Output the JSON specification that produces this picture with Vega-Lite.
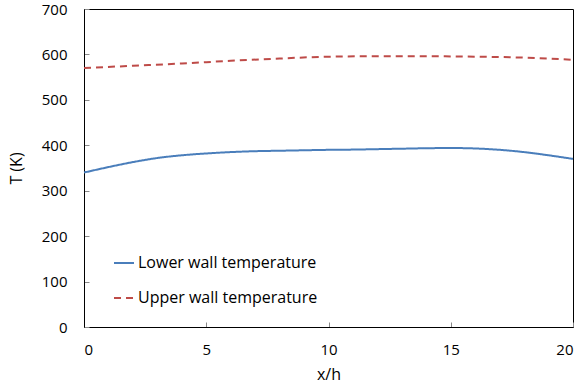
{
  "$schema": "https://vega.github.io/schema/vega-lite/v6.json",
  "width": 489,
  "height": 318,
  "autosize": {"type": "none"},
  "padding": {"left": 84, "top": 9, "right": 9, "bottom": 62},
  "background": "white",
  "config": {
    "view": {"stroke": "black", "strokeWidth": 1},
    "font": "Open Sans",
    "axis": {"grid": false, "domainColor": "black", "labelColor": "black", "titleColor": "black", "labelFont": "Open Sans", "titleFont": "Open Sans", "labelFontSize": 15, "titleFontSize": 16, "titleFontWeight": "normal", "tickColor": "#888888", "tickSize": -5}
  },
  "data": {"values": [
    {"x": 0, "T": 340, "s": "Lower wall temperature"},
    {"x": 1, "T": 352, "s": "Lower wall temperature"},
    {"x": 2, "T": 363, "s": "Lower wall temperature"},
    {"x": 3, "T": 372, "s": "Lower wall temperature"},
    {"x": 4, "T": 378, "s": "Lower wall temperature"},
    {"x": 5, "T": 382, "s": "Lower wall temperature"},
    {"x": 6, "T": 385, "s": "Lower wall temperature"},
    {"x": 7, "T": 387, "s": "Lower wall temperature"},
    {"x": 8, "T": 388, "s": "Lower wall temperature"},
    {"x": 9, "T": 389, "s": "Lower wall temperature"},
    {"x": 10, "T": 390, "s": "Lower wall temperature"},
    {"x": 11, "T": 390.5, "s": "Lower wall temperature"},
    {"x": 12, "T": 391.5, "s": "Lower wall temperature"},
    {"x": 13, "T": 392.5, "s": "Lower wall temperature"},
    {"x": 14, "T": 393.5, "s": "Lower wall temperature"},
    {"x": 15, "T": 394, "s": "Lower wall temperature"},
    {"x": 16, "T": 393, "s": "Lower wall temperature"},
    {"x": 17, "T": 390, "s": "Lower wall temperature"},
    {"x": 18, "T": 385, "s": "Lower wall temperature"},
    {"x": 19, "T": 378, "s": "Lower wall temperature"},
    {"x": 20, "T": 370, "s": "Lower wall temperature"},
    {"x": 0, "T": 570, "s": "Upper wall temperature"},
    {"x": 2, "T": 575, "s": "Upper wall temperature"},
    {"x": 4, "T": 580, "s": "Upper wall temperature"},
    {"x": 6, "T": 586, "s": "Upper wall temperature"},
    {"x": 8, "T": 591, "s": "Upper wall temperature"},
    {"x": 10, "T": 595, "s": "Upper wall temperature"},
    {"x": 12, "T": 596, "s": "Upper wall temperature"},
    {"x": 14, "T": 596, "s": "Upper wall temperature"},
    {"x": 16, "T": 595, "s": "Upper wall temperature"},
    {"x": 18, "T": 593, "s": "Upper wall temperature"},
    {"x": 19, "T": 591, "s": "Upper wall temperature"},
    {"x": 20, "T": 588, "s": "Upper wall temperature"}
  ]},
  "mark": {"type": "line", "strokeWidth": 2, "interpolate": "monotone"},
  "encoding": {
    "x": {"field": "x", "type": "quantitative", "title": "x/h", "scale": {"domain": [0, 20], "nice": false}, "axis": {"values": [0, 5, 10, 15, 20], "labelPadding": 20, "titlePadding": 9}},
    "y": {"field": "T", "type": "quantitative", "title": "T (K)", "scale": {"domain": [0, 700], "nice": false}, "axis": {"values": [0, 100, 200, 300, 400, 500, 600, 700], "labelPadding": 22, "titlePadding": 17}},
    "color": {"field": "s", "type": "nominal", "scale": {"domain": ["Lower wall temperature", "Upper wall temperature"], "range": ["#4A7EBB", "#BE4B48"]}, "legend": {"orient": "none", "legendX": 29, "legendY": 243, "title": null, "symbolType": "stroke", "symbolSize": 400, "symbolStrokeWidth": 2, "labelFontSize": 16, "labelFont": "Open Sans", "labelColor": "black", "labelLimit": 400, "rowPadding": 16, "labelOffset": 3}},
    "strokeDash": {"field": "s", "type": "nominal", "scale": {"domain": ["Lower wall temperature", "Upper wall temperature"], "range": [[1, 0], [7, 5]]}, "legend": null}
  }
}
